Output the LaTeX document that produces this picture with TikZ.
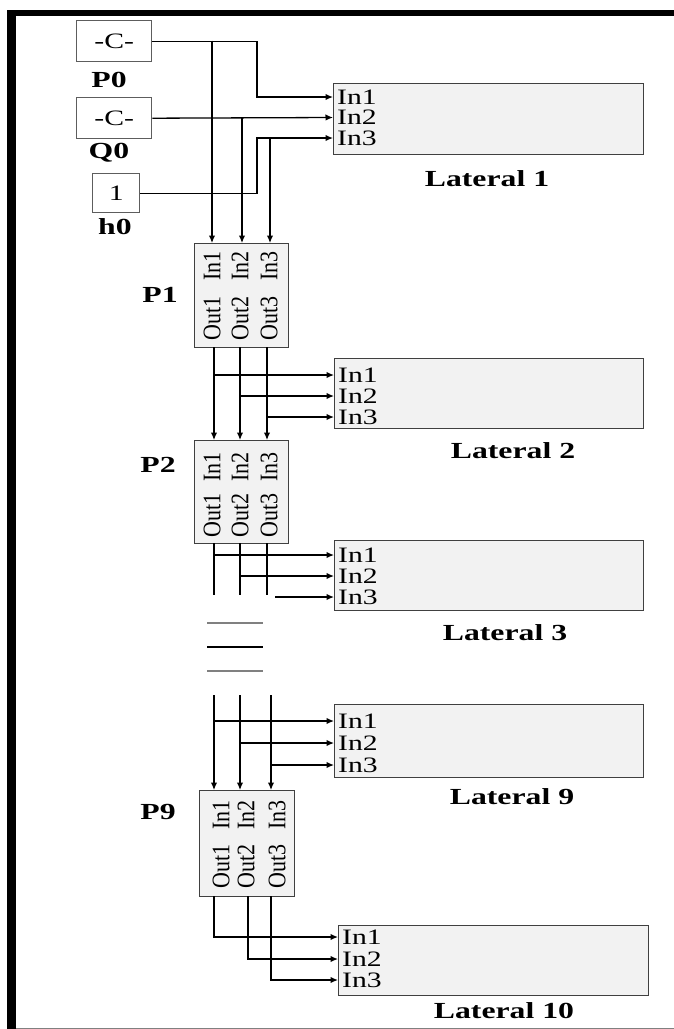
\documentclass[tikz,border=0pt]{standalone}
\usepackage{fontspec}
\usepackage{graphicx}
\setmainfont{Liberation Serif}
\usetikzlibrary{arrows.meta}
\definecolor{boxfill}{HTML}{F2F2F2}
\definecolor{boxline}{HTML}{404040}
\newcommand{\fsz}{\fontsize{22pt}{22pt}\selectfont}
\newcommand{\lfsz}{\fontsize{23pt}{23pt}\selectfont}
\newcommand{\htxt}[1]{\scalebox{1.35}[1]{#1}}
\newcommand{\ltxt}[1]{\scalebox{1.38}[1]{#1}}
\newcommand{\vtxt}[1]{\scalebox{1.15}[1]{\rotatebox{90}{#1}}}
\begin{document}
\begin{tikzpicture}[x=1pt,y=-1pt,
  conn/.style={line width=1.3pt, black},
  arr/.style={conn, -{Latex[length=7.5pt,width=6.5pt]}},
  lbox/.style={draw=boxline, fill=boxfill, line width=1.4pt, anchor=north west, inner sep=0pt},
  cbox/.style={draw=boxline!85, fill=white, line width=1.4pt, anchor=north west, inner sep=0pt, font=\fsz},
  lbl/.style={font=\lfsz\bfseries, inner sep=0pt},
  port/.style={font=\fsz, inner sep=0pt, anchor=west},
  vport/.style={font=\fsz, inner sep=0pt},
  sep/.style={line width=1.3pt}]
\useasboundingbox (0,0) rectangle (674,1029);
% frame
\fill[black] (7,10) rectangle (16,1029);
\fill[black] (7,10) rectangle (674,16);
\draw[gray, line width=1pt] (16,1028) -- (674,1028);

% sources
\node[cbox, minimum width=75pt, minimum height=41pt] (p0) at (76,20) {\htxt{-C-}};
\node[cbox, minimum width=75pt, minimum height=41pt] (q0) at (76,97) {\htxt{-C-}};
\node[cbox, minimum width=47pt, minimum height=39pt] (h0) at (92,173) {\htxt{1}};
\node[lbl] (p0l) at (109,80) {\ltxt{P0}};
\node[lbl] (q0l) at (109,153) {\ltxt{Q0}};
\node[lbl] (h0l) at (115,227) {\ltxt{h0}};

% Lateral 1
\node[lbox, minimum width=310pt, minimum height=71pt] (lat1) at (333,83) {};
\node[port] (lat1a) at (337,97) {\htxt{In1}};
\node[port] (lat1b) at (337,117.5) {\htxt{In2}};
\node[port] (lat1c) at (337,138) {\htxt{In3}};
\node[lbl] (lat1l) at (487,179) {\ltxt{Lateral 1}};

% P1
\node[lbox, minimum width=94pt, minimum height=104pt] (pb1) at (194,243) {};
\node[vport] (pb1i1) at (212,266) {\vtxt{In1}};
\node[vport] (pb1i2) at (240,266) {\vtxt{In2}};
\node[vport] (pb1i3) at (269,266) {\vtxt{In3}};
\node[vport] (pb1o1) at (212,318) {\vtxt{Out1}};
\node[vport] (pb1o2) at (240,318) {\vtxt{Out2}};
\node[vport] (pb1o3) at (269,318) {\vtxt{Out3}};
\node[lbl] (pb1l) at (160,295) {\ltxt{P1}};

% connections sources -> Lateral 1 and P1
\draw[arr] (p0.east) -| (257,97) -- (lat1.west |- lat1a);
\draw[arr] (q0.east) -- (lat1.west |- lat1b);
\draw[arr] (h0.east) -| (257,138) -- (lat1.west |- lat1c);
\coordinate (b1) at (212,40.5);
\coordinate (b2) at (242,117.5);
\coordinate (b3) at (270,138);
\draw[arr] (b1) -- (b1 |- pb1.north);
\draw[arr] (b2) -- (b2 |- pb1.north);
\draw[arr] (b3) -- (b3 |- pb1.north);

% Lateral 2
\node[lbox, minimum width=309pt, minimum height=70pt] (lat2) at (334,358) {};
\node[port] (lat2a) at (338,375) {\htxt{In1}};
\node[port] (lat2b) at (338,396) {\htxt{In2}};
\node[port] (lat2c) at (338,417) {\htxt{In3}};
\node[lbl] (lat2l) at (513,451) {\ltxt{Lateral 2}};

% P2
\node[lbox, minimum width=94pt, minimum height=103pt] (pb2) at (194,440) {};
\node[vport] (pb2i1) at (212,467) {\vtxt{In1}};
\node[vport] (pb2i2) at (240,467) {\vtxt{In2}};
\node[vport] (pb2i3) at (269,467) {\vtxt{In3}};
\node[vport] (pb2o1) at (212,515) {\vtxt{Out1}};
\node[vport] (pb2o2) at (240,515) {\vtxt{Out2}};
\node[vport] (pb2o3) at (269,515) {\vtxt{Out3}};
\node[lbl] (pb2l) at (158,465) {\ltxt{P2}};

% P1 -> P2, Lateral 2
\coordinate (o11) at (214,347);
\coordinate (o12) at (240,347);
\coordinate (o13) at (267,347);
\draw[arr] (o11) -- (o11 |- pb2.north);
\draw[arr] (o12) -- (o12 |- pb2.north);
\draw[arr] (o13) -- (o13 |- pb2.north);
\draw[arr] (o11 |- lat2a) -- (lat2.west |- lat2a);
\draw[arr] (o12 |- lat2b) -- (lat2.west |- lat2b);
\draw[arr] (o13 |- lat2c) -- (lat2.west |- lat2c);

% Lateral 3
\node[lbox, minimum width=309pt, minimum height=70pt] (lat3) at (334,540) {};
\node[port] (lat3a) at (338,555) {\htxt{In1}};
\node[port] (lat3b) at (338,576) {\htxt{In2}};
\node[port] (lat3c) at (338,597) {\htxt{In3}};
\node[lbl] (lat3l) at (505,633) {\ltxt{Lateral 3}};

% P2 outputs
\coordinate (o21) at (214,543);
\coordinate (o22) at (240,543);
\coordinate (o23) at (267,543);
\coordinate (e21) at (214,595);
\coordinate (e22) at (240,595);
\coordinate (e23) at (267,595);
\draw[conn] (o21) -- (e21);
\draw[conn] (o22) -- (e22);
\draw[conn] (o23) -- (e23);
\draw[arr] (o21 |- lat3a) -- (lat3.west |- lat3a);
\draw[arr] (o22 |- lat3b) -- (lat3.west |- lat3b);
\coordinate (f23) at (275,597);
\draw[arr] (f23) -- (lat3.west |- lat3c);

% separators
\draw[sep, gray] (207,623) -- (263,623);
\draw[sep, black] (207,647) -- (263,647);
\draw[sep, gray] (207,671) -- (263,671);

% Lateral 9
\node[lbox, minimum width=309pt, minimum height=73pt] (lat9) at (334,704) {};
\node[port] (lat9a) at (338,721) {\htxt{In1}};
\node[port] (lat9b) at (338,743) {\htxt{In2}};
\node[port] (lat9c) at (338,765) {\htxt{In3}};
\node[lbl] (lat9l) at (512,797) {\ltxt{Lateral 9}};

% P9
\node[lbox, minimum width=95pt, minimum height=106pt] (pb9) at (199,790) {};
\node[vport] (pb9i1) at (221,815) {\vtxt{In1}};
\node[vport] (pb9i2) at (246,815) {\vtxt{In2}};
\node[vport] (pb9i3) at (277,815) {\vtxt{In3}};
\node[vport] (pb9o1) at (221,866) {\vtxt{Out1}};
\node[vport] (pb9o2) at (246,866) {\vtxt{Out2}};
\node[vport] (pb9o3) at (277,866) {\vtxt{Out3}};
\node[lbl] (pb9l) at (158,812) {\ltxt{P9}};

% stubs -> P9, Lateral 9
\coordinate (s1) at (214,695);
\coordinate (s2) at (240,695);
\coordinate (s3) at (271,695);
\draw[arr] (s1) -- (s1 |- pb9.north);
\draw[arr] (s2) -- (s2 |- pb9.north);
\draw[arr] (s3) -- (s3 |- pb9.north);
\draw[arr] (s1 |- lat9a) -- (lat9.west |- lat9a);
\draw[arr] (s2 |- lat9b) -- (lat9.west |- lat9b);
\draw[arr] (s3 |- lat9c) -- (lat9.west |- lat9c);

% Lateral 10
\node[lbox, minimum width=310pt, minimum height=70pt] (lat10) at (338,925) {};
\node[port] (lat10a) at (342,937) {\htxt{In1}};
\node[port] (lat10b) at (342,959) {\htxt{In2}};
\node[port] (lat10c) at (342,980) {\htxt{In3}};
\node[lbl] (lat10l) at (504,1011) {\ltxt{Lateral 10}};

% P9 outputs -> Lateral 10
\coordinate (o91) at (214,896);
\coordinate (o92) at (248,896);
\coordinate (o93) at (271,896);
\draw[arr] (o91) |- (lat10.west |- lat10a);
\draw[arr] (o92) |- (lat10.west |- lat10b);
\draw[arr] (o93) |- (lat10.west |- lat10c);
\end{tikzpicture}
\end{document}
